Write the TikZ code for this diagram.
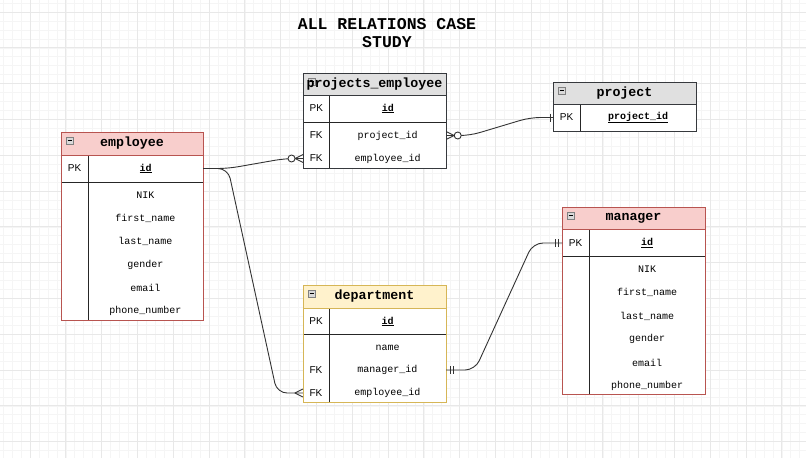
\documentclass[tikz,border=0pt]{standalone}
\usepackage{fontspec}
\setmainfont{Liberation Sans}
\newfontfamily\monofont{Liberation Mono}
\definecolor{redfill}{HTML}{F8CECC}
\definecolor{redline}{HTML}{B85450}
\definecolor{grayfill}{HTML}{E0E0E0}
\definecolor{grayline}{HTML}{36393D}
\definecolor{yellowfill}{HTML}{FFF2CC}
\definecolor{yellowline}{HTML}{D6B656}
\tikzset{
    zeromany/.pic={\draw[rel] (-8,0) -- (0,-4) (-8,0) -- (0,4) (-8,0) -- (0,0);
        \draw[rel,fill=white] (-11.5,0) circle (3.5);},
    many/.pic={\draw[rel] (-8,0) -- (0,-4) (-8,0) -- (0,4);},
    one/.pic={\draw[rel] (-3,-4) -- (-3,4);},
    oneone/.pic={\draw[rel] (-4,-4) -- (-4,4) (-7,-4) -- (-7,4);}
}
\begin{document}
\begin{tikzpicture}[x=1pt,y=-1pt,
    minorgrid/.style={draw=black!4,line width=0.6},
    majorgrid/.style={draw=black!9,line width=0.8},
    inner/.style={draw=black!85,line width=1},
    icon/.style={draw=black!50,fill=black!15,line width=0.6},
    rel/.style={draw=black!80,line width=0.9},
    title/.style={font=\monofont\bfseries\fontsize{13.3}{15}\selectfont},
    key/.style={inner sep=0,minimum width=26,minimum height=23,font=\fontsize{10}{12}\selectfont},
    field/.style={inner sep=0,minimum width=#1,minimum height=23,font=\monofont\fontsize{10}{12}\selectfont}]
    \useasboundingbox (0,0) rectangle (806,458);
    \fill[white] (0,0) rectangle (806,458);
    \begin{scope}
    \clip (0,0) rectangle (806,458);
    \foreach \k in {-3,...,87}
        \draw[minorgrid] ({30+8.95*\k},0) -- ({30+8.95*\k},458);
    \foreach \k in {-1,...,50}
        \draw[minorgrid] (0,{12+8.95*\k}) -- (806,{12+8.95*\k});
    \foreach \k in {0,...,21}
        \draw[majorgrid] ({30+35.8*\k},0) -- ({30+35.8*\k},458);
    \foreach \k in {0,...,12}
        \draw[majorgrid] (0,{12+35.8*\k}) -- (806,{12+35.8*\k});
    \end{scope}

    \node[font=\monofont\bfseries\fontsize{16.5}{18.5}\selectfont,align=center] (heading) at (387,33) {ALL RELATIONS CASE\\STUDY};

    % table frames
    \foreach \L/\T/\R/\H/\P/\B/\D/\cf/\cl in {
        61/132/203/155/182/320/88/redfill/redline,
        562/207/705/229.5/256.5/394/589/redfill/redline,
        303/73/446/95/122/168.5/329.5/grayfill/grayline,
        553/82/696/104/131/131/580/grayfill/grayline,
        303/285/446/308.5/334.5/402.5/329/yellowfill/yellowline}
    {
        \fill[white] (\L,\H) rectangle (\R,\B);
        \draw[inner] (\L,\P) -- (\R,\P) (\D,\H) -- (\D,\B);
        \draw[draw=\cl,fill=\cf,line width=1] (\L,\T) rectangle (\R,\H);
        \draw[draw=\cl,line width=1] (\L,\T) rectangle (\R,\B);
        \draw[icon] (\L+5,\T+5) rectangle ++(7,7);
        \draw[line width=0.6] (\L+6.5,\T+8.5) -- ++(4,0);
    }

    % employee
    \node[title] (emp-title) at (132,143.5) {employee};
    \node[key] (emp-pk) at (74.5,168.5) {PK};
    \node[field=115] (emp-id) at (145.5,168.5) {\underline{\textbf{id}}};
    \foreach \f [count=\i] in {NIK,first\_name,last\_name,gender,email,phone\_number}
        \node[field=115] (emp-f\i) at (145.5,{172+23.2*\i}) {\f};

    % manager
    \node[title] (mgr-title) at (633.5,218) {manager};
    \node[key] (mgr-pk) at (575.5,243) {PK};
    \node[field=116] (mgr-id) at (647,243) {\underline{\textbf{id}}};
    \foreach \f [count=\i] in {NIK,first\_name,last\_name,gender,email,phone\_number}
        \node[field=116] (mgr-f\i) at (647,{246.2+23.3*\i}) {\f};

    % projects_employee
    \node[title] (pe-title) at (374.5,84) {projects\_employee};
    \node[key] (pe-pk) at (316.25,108.5) {PK};
    \node[field=116.5] (pe-id) at (387.75,108.5) {\underline{\textbf{id}}};
    \node[key] (pe-k1) at (316.25,135.5) {FK};
    \node[field=116.5] (pe-f1) at (387.75,135.5) {project\_id};
    \node[key] (pe-k2) at (316.25,158.5) {FK};
    \node[field=116.5] (pe-f2) at (387.75,158.5) {employee\_id};

    % project
    \node[title] (proj-title) at (624.5,93) {project};
    \node[key] (proj-pk) at (566.5,117.5) {PK};
    \node[field=116] (proj-id) at (638,117.5) {\underline{\textbf{project\_id}}};

    % department
    \node[title] (dep-title) at (374.5,296.5) {department};
    \node[key] (dep-pk) at (316,321.5) {PK};
    \node[field=117] (dep-id) at (387.5,321.5) {\underline{\textbf{id}}};
    \node[field=117] (dep-f1) at (387.5,347.5) {name};
    \node[key] (dep-k2) at (316,370) {FK};
    \node[field=117] (dep-f2) at (387.5,370) {manager\_id};
    \node[key] (dep-k3) at (316,393) {FK};
    \node[field=117] (dep-f3) at (387.5,393) {employee\_id};

    % relations
    \draw[rel,rounded corners=10] (emp-id.east) -- (228,168.5) -- (285,158.5) -- (pe-k2.west);
    \draw[rel,rounded corners=10] (emp-id.east) -- (228,168.5) -- (277,393) -- (dep-k3.west);
    \draw[rel,rounded corners=10] (pe-f1.east) -- (470,135.5) -- (530,117.5) -- (proj-pk.west);
    \draw[rel,rounded corners=10] (dep-f2.east) -- (475,370) -- (533,243) -- (mgr-pk.west);
    \pic at (pe-k2.west) {zeromany};
    \pic at (dep-k3.west) {many};
    \pic[xscale=-1] at (pe-f1.east) {zeromany};
    \pic at (proj-pk.west) {one};
    \pic[xscale=-1] at (dep-f2.east) {oneone};
    \pic at (mgr-pk.west) {oneone};
\end{tikzpicture}
\end{document}
